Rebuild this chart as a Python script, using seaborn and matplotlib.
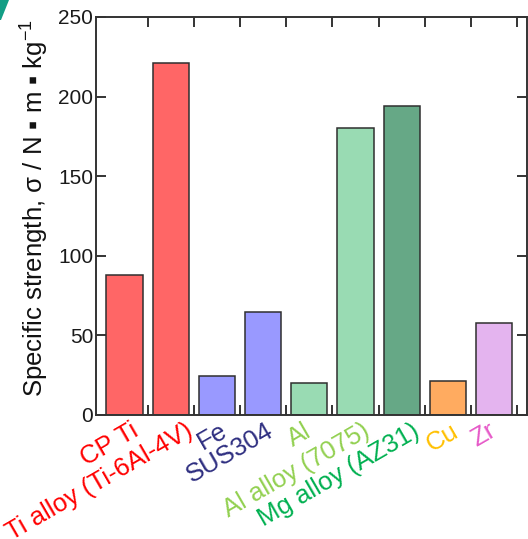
import numpy as np
import pandas as pd
import matplotlib.pyplot as plt
import matplotlib.transforms as mtransforms
from matplotlib.patches import Polygon
import seaborn as sns

materials = ["CP Ti", "Ti alloy (Ti-6Al-4V)", "Fe", "SUS304", "Al",
             "Al alloy (7075)", "Mg alloy (AZ31)", "Cu", "Zr"]
strength = [88, 221, 24.5, 64.5, 20, 180, 194, 21.5, 57.5]
bar_colors = ["#ff6666", "#ff6666", "#9999ff", "#9999ff", "#99dbb3",
              "#99dbb3", "#66a886", "#ffab60", "#e4b4ef"]
label_colors = ["#ff0000", "#ff0000", "#2e2e80", "#2e2e80", "#92d050",
                "#92d050", "#00b050", "#ffc000", "#e659c8"]
# hand nudges (px) for the slanted labels, as in the original figure
label_dx = [6, 14, 3, 2, -6, 6, 10, 3, -6]

df = pd.DataFrame({"material": materials, "strength": strength})

sns.set_style("ticks")
plt.rcParams['font.family'] = ['Liberation Sans', 'DejaVu Sans']
plt.rcParams['mathtext.fontset'] = 'custom'
plt.rcParams['mathtext.rm'] = 'Liberation Sans'

fig = plt.figure(figsize=(5.28, 5.39), dpi=100, facecolor="white")
ax = fig.add_axes([96/528, 1-415/539, 431/528, 398/539])

sns.barplot(data=df, x="material", y="strength", hue="material",
            palette=bar_colors, legend=False, width=0.78, saturation=1,
            edgecolor="#2f2f2f", linewidth=1.1, ax=ax)

ax.set_xlim(-0.617, 8.712)
ax.set_ylim(0, 250)
ax.set_yticks(range(0, 251, 50))
ax.set_xticks(range(len(materials)))
ax.set_xticks(np.arange(0.5, len(materials), 1), minor=True)
ax.tick_params(axis='x', which='major', length=0, pad=2)
ax.tick_params(axis='x', which='minor', direction='in', top=True, bottom=True,
               length=7, width=1.4, color="#333333")
ax.tick_params(axis='y', direction='in', left=True, right=True, length=7,
               width=1.4, color="#333333", labelsize=15, labelcolor="#1a1a1a", pad=2)

ax.set_xticklabels(materials, rotation=30, ha='right', va='top',
                   rotation_mode='anchor', fontsize=18.5)
for lab, c, dx in zip(ax.get_xticklabels(), label_colors, label_dx):
    lab.set_color(c)
    off = mtransforms.ScaledTranslation(dx/100, -0.01, fig.dpi_scale_trans)
    lab.set_transform(lab.get_transform() + off)

ax.set_xlabel("")
ax.set_ylabel("Specific strength, σ / N ▪ m ▪ kg$^{\\mathregular{-1}}$",
              fontsize=18.5, color="#111111")
ax.yaxis.set_label_coords(-0.106, 0.52)

for s in ax.spines.values():
    s.set_linewidth(1.4)
    s.set_color("#333333")

fig.patches.append(Polygon([(0, 1), (9/528, 1), (1/528, 1-20/539), (0, 1-20/539)],
                           closed=True, transform=fig.transFigure,
                           facecolor="#129e85", edgecolor="none"))

fig.savefig("out.png", dpi=100)
